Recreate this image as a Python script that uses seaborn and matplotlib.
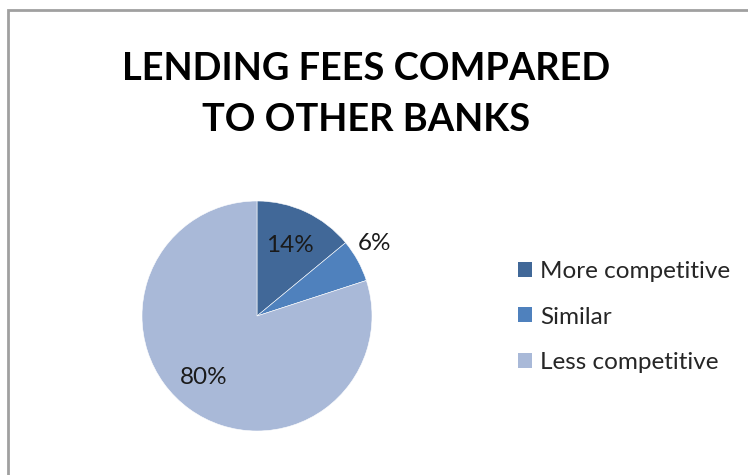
import matplotlib
matplotlib.use("Agg")
import matplotlib.pyplot as plt
from matplotlib.patches import Patch, Rectangle
import numpy as np
import seaborn as sns

# Survey shares
categories = ["More competitive", "Similar", "Less competitive"]
shares = [14, 6, 80]
pct_labels = ["14%", "6%", "80%"]
title_lines = ["LENDING FEES COMPARED", "TO OTHER BANKS"]

sns.set_theme(style="white")
plt.rcParams["font.family"] = ["Lato", "DejaVu Sans"]

colors = ["#416898", "#4F81BD", "#A9B9D8"]

W, H = 748, 475
fig = plt.figure(figsize=(W / 100, H / 100), dpi=100)
fig.patch.set_facecolor("white")

def px(x, y):
    return x / W, 1 - y / H

# Chart-area frame (runs off the right and bottom edges)
fig.patches.append(Rectangle(px(8, 10 + 480), (W + 20) / W, 480 / H,
                             transform=fig.transFigure, fill=False,
                             edgecolor="#A0A0A0", linewidth=2.0, zorder=0))

# Pie
cx, cy, r = 257, 316, 115
ax = fig.add_axes([(cx - r) / W, (H - cy - r) / H, 2 * r / W, 2 * r / H])
wedges, _ = ax.pie(shares, colors=colors, startangle=90, counterclock=False,
                   radius=1.0, wedgeprops=dict(edgecolor="white", linewidth=0.4))
ax.set_xlim(-1, 1)
ax.set_ylim(-1, 1)
ax.set_aspect("equal")
ax.axis("off")

label_dist = [0.68, 1.20, 0.71]
label_shift = [0.0, 3.0, -5.0]   # nudge along the arc, degrees
for w, lab, d, s in zip(wedges, pct_labels, label_dist, label_shift):
    ang = np.deg2rad((w.theta1 + w.theta2) / 2 + s)
    ax.text(d * np.cos(ang), d * np.sin(ang), lab, ha="center", va="center",
            fontsize=17.5, color="#1a1a1a")

# Title, scaled to span the chart width
fig.canvas.draw()
renderer = fig.canvas.get_renderer()
t1 = fig.text(*px(366, 69), title_lines[0], ha="center", va="center",
              fontsize=30, fontweight="bold", color="black")
bb = t1.get_window_extent(renderer)
fs = 30 * 490 / bb.width
t1.set_fontsize(fs)
fig.text(*px(366, 120), title_lines[1], ha="center", va="center",
         fontsize=fs, fontweight="bold", color="black")

# Legend
handles = [Patch(facecolor=c, edgecolor="none") for c in colors]
fig.legend(handles, categories, loc="center left",
           bbox_to_anchor=px(518, 317), frameon=False, fontsize=17.5,
           handlelength=0.58, handleheight=0.58, handletextpad=0.33,
           labelspacing=1.0, borderpad=0, borderaxespad=0)

fig.savefig("out.png", dpi=100, facecolor="white")
